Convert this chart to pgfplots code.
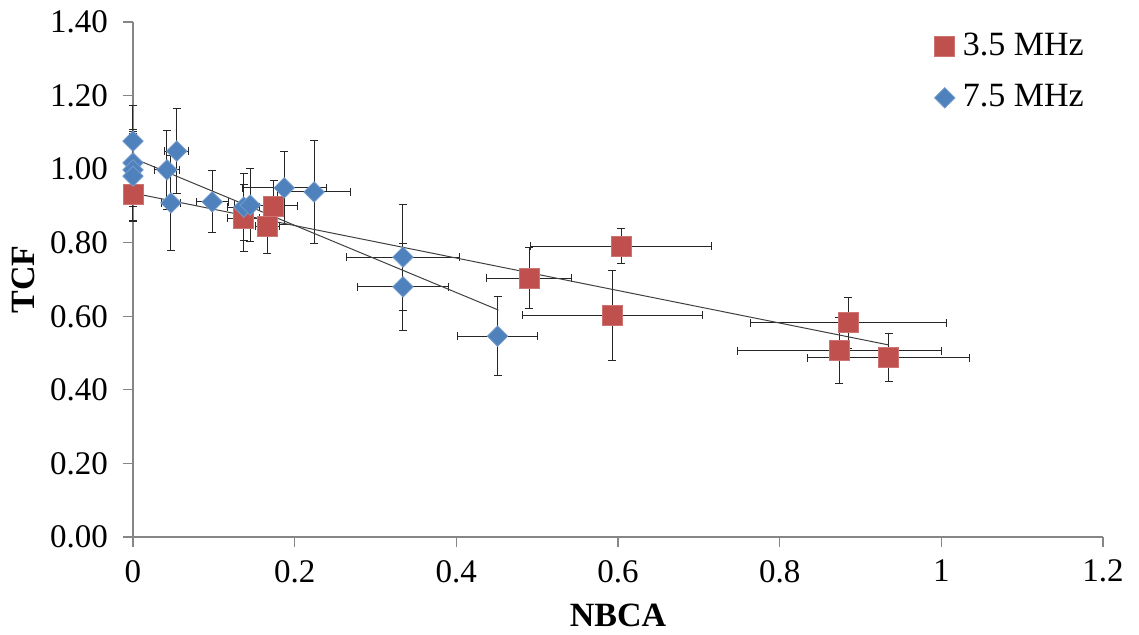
\documentclass[border=0pt]{standalone}
\usepackage{fontspec}
\setmainfont{Liberation Serif}
\usepackage{pgfplots}
\usepackage{pgfplotstable}
\pgfplotsset{compat=1.18}
\definecolor{exred}{HTML}{C0504D}
\definecolor{exblue}{HTML}{4F81BD}
\definecolor{axgray}{HTML}{868686}
\pgfplotstableread{
x y ex ey
0 0.932 0 0.075
0.137 0.867 0.02 0.09
0.166 0.845 0.015 0.073
0.174 0.900 0.03 0.068
0.490 0.704 0.053 0.083
0.604 0.791 0.112 0.048
0.593 0.603 0.111 0.122
0.885 0.582 0.121 0.07
0.874 0.506 0.126 0.09
0.935 0.487 0.1 0.065
}\redtab
\pgfplotstableread{
x y ex ey
0 1.076 0 0.098
0 1.017 0 0.09
0 0.998 0 0.1
0 0.981 0 0.12
0.042 0.998 0.015 0.108
0.054 1.049 0.015 0.115
0.047 0.908 0.012 0.13
0.098 0.911 0.02 0.084
0.137 0.897 0.02 0.09
0.145 0.902 0.02 0.1
0.187 0.949 0.052 0.1
0.224 0.938 0.045 0.14
0.334 0.761 0.07 0.144
0.334 0.680 0.056 0.118
0.451 0.546 0.05 0.107
}\bluetab
\begin{document}
\fontsize{16}{19}\selectfont
\begin{tikzpicture}
\begin{axis}[
  scale only axis,
  width=485pt, height=257.5pt,
  xmin=0, xmax=1.2, ymin=0, ymax=1.4,
  xtick={0,0.2,...,1.2},
  xticklabels={0,0.2,0.4,0.6,0.8,1,1.2},
  ytick={0,0.2,...,1.4},
  yticklabel style={xshift=-2pt, /pgf/number format/.cd, fixed, fixed zerofill, precision=2},
  /pgf/number format/assume math mode=true,
  axis x line*=bottom, axis y line*=left,
  axis line style={axgray, line width=0.6pt},
  tick style={axgray, line width=0.6pt},
  tick align=outside, major tick length=5pt,
  ticklabel style={font=\fontsize{16.5}{19}\selectfont, black},
  xticklabel style={yshift=-1pt},
  xlabel={\textbf{NBCA}}, ylabel={\textbf{TCF}},
  label style={font=\fontsize{17}{20}\selectfont},
  ylabel style={yshift=-3pt},
  legend style={draw=none, fill=none, at={(0.993,0.995)}, anchor=north east,
    font=\fontsize{17}{20}\selectfont, row sep=8pt, inner sep=2pt,
    nodes={inner xsep=4pt}},
  legend cell align=left,
  clip=false,
]
\addplot[only marks, mark=square*, mark size=5pt, mark options={fill=exred, draw=exred!80!white, line width=0.4pt},
  error bars/.cd, x dir=both, x explicit, y dir=both, y explicit,
  error bar style={black!85, line width=0.5pt},
  error mark options={black!85, line width=0.5pt, mark size=2pt, rotate=90}]
  table[x=x, y=y, x error=ex, y error=ey]{\redtab};
\addlegendentry{3.5 MHz}
\addplot[only marks, mark=square*, mark size=3.6pt, mark options={rotate=45, fill=exblue, draw=exblue!80!white, line width=0.4pt},
  error bars/.cd, x dir=both, x explicit, y dir=both, y explicit,
  error bar style={black!85, line width=0.5pt},
  error mark options={black!85, line width=0.5pt, mark size=2pt, rotate=90}]
  table[x=x, y=y, x error=ex, y error=ey]{\bluetab};
\addlegendentry{7.5 MHz}
\addplot[black!75, line width=0.5pt, forget plot] coordinates {(0,0.935) (0.935,0.522)};
\addplot[black!75, line width=0.5pt, forget plot] coordinates {(0,1.030) (0.452,0.617)};
\end{axis}
\pgfresetboundingbox
\path (current axis.south west) ++(-66.5pt,-49pt) coordinate (bl);
\path (current axis.north east) ++(18pt,11pt) coordinate (tr);
\path (bl) rectangle (tr);
\end{tikzpicture}
\end{document}
